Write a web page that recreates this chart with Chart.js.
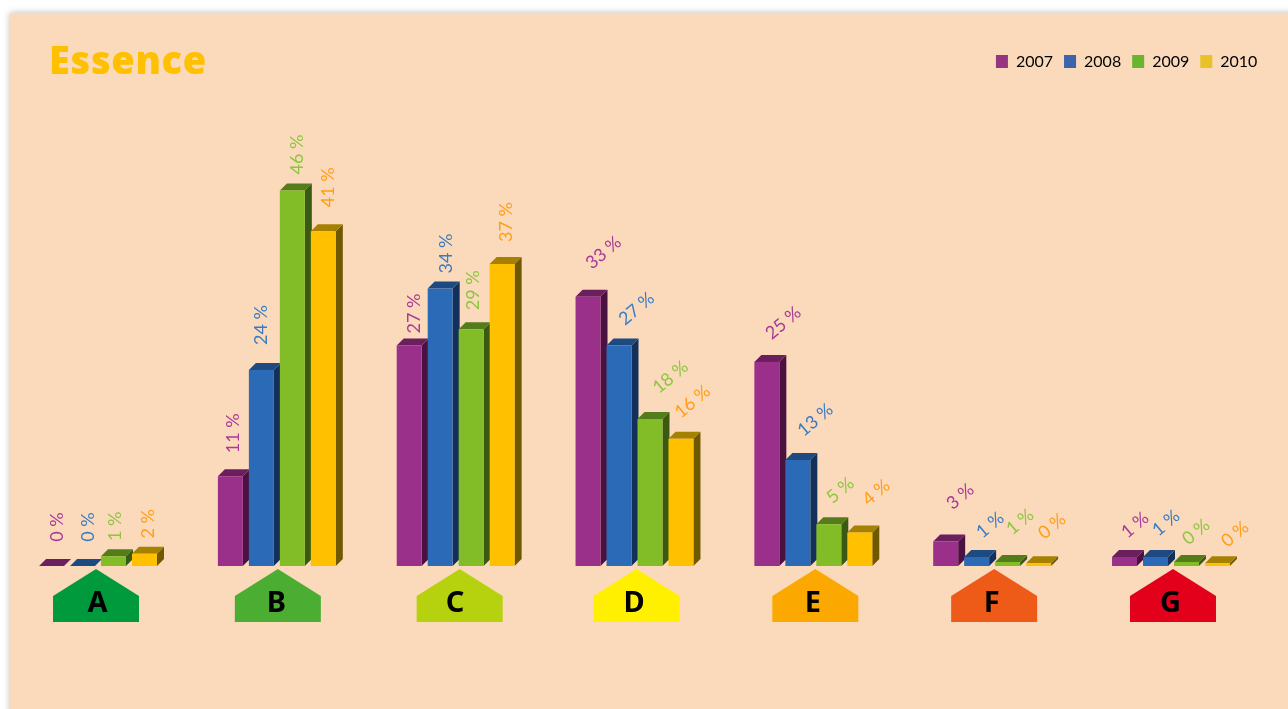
<!DOCTYPE html>
<html><head><meta charset="utf-8">
<style>
html,body{margin:0;padding:0;width:1288px;height:709px;overflow:hidden;background:#fff}
#panel{position:absolute;left:10px;top:13px;width:1300px;height:720px;background:#FBD9BB;box-shadow:0 0 7px rgba(0,0,0,.28)}
#wrap{position:absolute;left:0;top:0;width:1288px;height:709px}
</style>
<script src="https://cdn.jsdelivr.net/npm/chart.js@4"></script>
</head><body>
<div id="panel"></div>
<div id="wrap"><canvas id="c" width="1288" height="709"></canvas></div>
<script>
const categories = ['A','B','C','D','E','F','G'];
const years = ['2007','2008','2009','2010'];
// bar heights
const values2007 = [0, 11, 27, 33, 25, 3, 1.1];
const values2008 = [0, 24, 34, 27, 13, 1.1, 1.1];
const values2009 = [1.2, 46, 29, 18, 5.1, 0.5, 0.5];
const values2010 = [1.5, 41, 37, 15.6, 4.1, 0.35, 0.35];
// printed percentages
const labels2007 = [0, 11, 27, 33, 25, 3, 1];
const labels2008 = [0, 24, 34, 27, 13, 1, 1];
const labels2009 = [1, 46, 29, 18, 5, 1, 0];
const labels2010 = [2, 41, 37, 16, 4, 0, 0];

const title = 'Essence';
const frontColors = ['#9B308A','#2B6AB6','#82BC26','#FFC000'];
const sideColors  = ['#4A1240','#12305A','#3A5A12','#6E5800'];
const topColors   = ['#6B1F5F','#1D4A80','#537D1A','#A68000'];
const legendColors= ['#94357F','#3C64AB','#6AB52F','#E8C327'];
const labelColors = ['#A93A96','#3A7CC4','#8DC63F','#FF9E16'];
const classColors = ['#009A3D','#4BAE32','#B6D20F','#FFF000','#FBA900','#EE5A17','#E2001A'];
const classOffset = [-2,1,4,2,2,2,2];
const depth = 7;

// label placement relative to the bar top, by series then category
const labelDx = [[5.5,2.5,4.5,15.5,16.5,14.5,10.5],[5.5,-.5,6.5,17.5,17.5,13.5,10.5],[2,4.5,2.5,20.5,11.5,12.5,9.5],[3.5,4.5,4.5,11.5,16.5,13.5,17.5]];
const labelDy = [[-39,-43,-32,-44,-39,-45,-32],[-39,-45,-35,-37,-40,-32,-34],[-30,-36,-39,-42,-34,-40,-30],[-30,-44,-42,-37,-40,-37,-29]];
const labelAngle = [-90,-90,-90,-40,-40,-40,-40];

const seriesValues = [values2007,values2008,values2009,values2010];
const seriesLabels = [labels2007,labels2008,labels2009,labels2010];

const extrude = {
  id:'extrude',
  afterLayout(chart){
    if(chart.legend){chart.legend.right += 8;}
  },
  beforeDatasetsDraw(chart){
    const ctx = chart.ctx;
    chart.data.datasets.forEach((ds,i)=>{
      chart.getDatasetMeta(i).data.forEach(bar=>{
        const l = bar.x-bar.width/2, r = bar.x+bar.width/2, t = bar.y, b = bar.base;
        ctx.fillStyle = sideColors[i];
        ctx.beginPath();ctx.moveTo(r,t);ctx.lineTo(r+depth,t-depth);ctx.lineTo(r+depth,b-depth);ctx.lineTo(r,b);ctx.closePath();ctx.fill();
        ctx.fillStyle = topColors[i];
        ctx.beginPath();ctx.moveTo(l,t);ctx.lineTo(l+depth,t-depth);ctx.lineTo(r+depth,t-depth);ctx.lineTo(r,t);ctx.closePath();ctx.fill();
      });
    });
  },
  afterDatasetsDraw(chart){
    const ctx = chart.ctx, x = chart.scales.x, base = chart.scales.y.getPixelForValue(0);
    // class pentagons and letters
    categories.forEach((c,i)=>{
      const cx = x.getPixelForValue(i), px = cx+classOffset[i];
      ctx.fillStyle = classColors[i];
      ctx.beginPath();
      ctx.moveTo(px-43,base+56);ctx.lineTo(px-43,base+30);ctx.lineTo(px,base+3);
      ctx.lineTo(px+43,base+30);ctx.lineTo(px+43,base+56);ctx.closePath();ctx.fill();
      ctx.fillStyle='#000';ctx.font='700 29px "Noto Sans"';ctx.textAlign='center';ctx.textBaseline='middle';
      ctx.fillText(c,cx-0.5,base+38);
    });
    // percentage labels
    chart.data.datasets.forEach((ds,i)=>{
      chart.getDatasetMeta(i).data.forEach((bar,j)=>{
        ctx.save();
        ctx.translate(bar.x+labelDx[i][j],bar.y+labelDy[i][j]);
        ctx.rotate(labelAngle[j]*Math.PI/180);
        ctx.fillStyle=labelColors[i];ctx.font='18px Lato';ctx.textAlign='center';ctx.textBaseline='middle';
        ctx.fillText(seriesLabels[i][j]+' %',0,0);
        ctx.restore();
      });
    });
    // title
    ctx.save();
    ctx.fillStyle='#FFC000';ctx.font='900 38px "Noto Sans"';ctx.textAlign='left';ctx.textBaseline='alphabetic';
    ctx.letterSpacing='0.7px';
    ctx.fillText(title,49,74);
    ctx.restore();
  }
};

new Chart(document.getElementById('c'),{
  type:'bar',
  data:{labels:categories,datasets:years.map((y,i)=>({
    label:y,data:seriesValues[i],backgroundColor:frontColors[i],borderWidth:0,
    categoryPercentage:0.693,barPercentage:0.806
  }))},
  options:{
    responsive:false,animation:false,
    layout:{padding:{left:8.6,right:27.6,top:42.5,bottom:143}},
    scales:{
      x:{display:false,grid:{display:false}},
      y:{display:false,min:0,max:59.6,grid:{display:false}}
    },
    plugins:{
      tooltip:{enabled:false},
      legend:{
        position:'top',align:'end',
        labels:{
          boxWidth:12,boxHeight:13,padding:11,color:'#111',font:{family:'Lato',size:16},
          generateLabels:ch=>ch.data.datasets.map((d,i)=>({text:d.label,fillStyle:legendColors[i],strokeStyle:legendColors[i],lineWidth:0,datasetIndex:i,hidden:false}))
        }
      }
    }
  },
  plugins:[extrude]
});
</script>
</body></html>
